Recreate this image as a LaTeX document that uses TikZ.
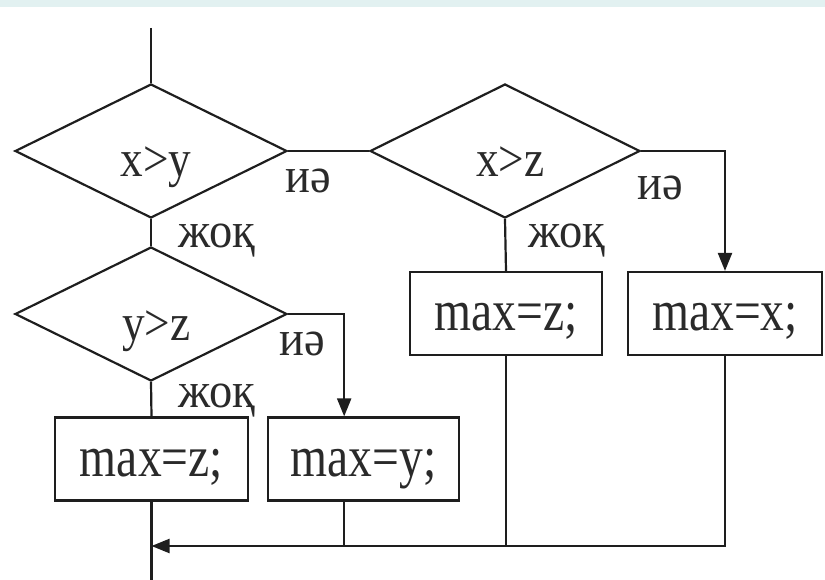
\documentclass[tikz,border=0pt]{standalone}
\usepackage{graphicx}
\usepackage{fontspec}
\setmainfont{Liberation Serif}
\usetikzlibrary{shapes.geometric,arrows.meta,calc}
\definecolor{linec}{HTML}{1E1E1E}
\definecolor{txtc}{HTML}{2A2A2A}
\definecolor{bandc}{HTML}{E2F1F1}
\newcommand\dfontx{\fontsize{52}{56}\selectfont}
\newcommand\bfontx{\fontsize{58}{62}\selectfont}
\newcommand\lfontx{\fontsize{50}{54}\selectfont}
\newcommand\dtx[1]{\scalebox{0.87}[1]{\hspace*{12pt}#1}}
\newcommand\btx[1]{\scalebox{0.82}[1]{#1}}
\newcommand\ltx[1]{\scalebox{0.93}[1]{#1}}
\begin{document}
\begin{tikzpicture}[x=1pt,y=-1pt,
  ln/.style={line width=2.2pt, draw=linec},
  arr/.style={ln, -{Triangle[length=18pt,width=14pt]}},
  dec/.style={diamond, ln, aspect=2, minimum width=272pt, minimum height=134pt,
    inner sep=0pt, text height=60pt, text depth=8pt, font=\dfontx, text=txtc},
  procbox/.style={rectangle, ln, minimum width=192pt, minimum height=83pt,
    inner sep=0pt, text height=42pt, text depth=8pt, font=\bfontx, text=txtc},
  lab/.style={anchor=base, inner sep=0pt, font=\lfontx, text=txtc}]
\useasboundingbox (0,0) rectangle (825,580);
\fill[bandc] (0,0) rectangle (825,7);

% decisions
\node[dec] (d1) at (151,151) {\dtx{x>y}};
\node[dec] (d2) at (151,314) {\dtx{y>z}};
\node[dec, minimum width=270pt] (d3) at (505,151) {\dtx{x>z}};

% process boxes
\node[procbox, minimum width=193pt] (b1) at (151.5,459) {\btx{max=z;}};
\node[procbox, minimum width=191pt] (b2) at (363.5,459) {\btx{max=y;}};
\node[procbox] (b3) at (506,313.5) {\btx{max=z;}};
\node[procbox, minimum width=194pt] (b4) at (725,313.5) {\btx{max=x;}};

% helper coordinates
\coordinate (start) at (151,28);
\coordinate (exit) at (151.5,580);
\coordinate (m) at (151.5,546);
\coordinate (b2in) at ($(b2.north west)!0.4!(b2.north east)$);
\coordinate (b2out) at ($(b2.south west)!0.4!(b2.south east)$);

% connectors
\draw[ln] (start) -- (d1.north);
\draw[ln] (d1.east) -- (d3.west);
\draw[ln] (d1.south) -- (d2.north);
\draw[arr] (d3.east) -| (b4.north);
\draw[ln] (d3.south) -- (b3.north);
\draw[arr] (d2.east) -| (b2in);
\draw[ln] (d2.south) -- (b1.north);
\draw[ln] (b1.south) -- (exit);
\draw[arr] (b4.south) |- (m);
\draw[ln] (b3.south) -- (b3.south |- m);
\draw[ln] (b2out) -- (b2out |- m);

% branch labels
\node[lab] (l1) at (308,193) {\ltx{иә}};
\node[lab] (l2) at (217,248) {\ltx{жоқ}};
\node[lab] (l3) at (660,200) {\ltx{иә}};
\node[lab] (l4) at (567,248) {\ltx{жоқ}};
\node[lab] (l5) at (302,355) {\ltx{иә}};
\node[lab] (l6) at (217,407) {\ltx{жоқ}};
\end{tikzpicture}
\end{document}
